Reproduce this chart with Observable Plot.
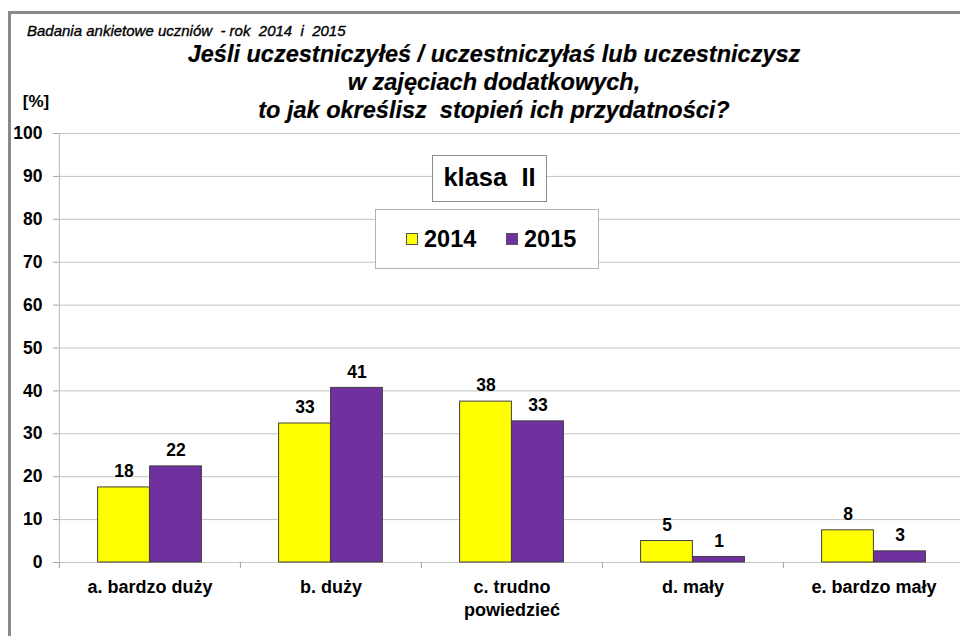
<!DOCTYPE html>
<html>
<head>
<meta charset="utf-8">
<script src="https://cdn.jsdelivr.net/npm/d3@7"></script>
<script src="https://cdn.jsdelivr.net/npm/@observablehq/plot@0.6"></script>
<style>
  html, body { margin: 0; padding: 0; background: #fff; }
  body { width: 960px; height: 636px; overflow: hidden; position: relative;
         font-family: "Liberation Sans", Arial, sans-serif; color: #000; }
  .abs { position: absolute; white-space: pre; }
  #frame { position: absolute; left: 8px; top: 11px; width: 1000px; height: 700px;
           border: 3px solid #8a8a8a; box-sizing: border-box; }
  #chart { position: absolute; left: 0; top: 0; }
  #sub { left: 27px; top: 22px; font-size: 15px; font-style: italic; line-height: 18px;
         -webkit-text-stroke: 0.35px #000; }
  #title { left: 0; width: 988px; top: 40px; text-align: center; font-size: 23.5px;
           font-weight: bold; font-style: italic; line-height: 28px; -webkit-text-stroke: 0.2px #000; }
  #unit { left: 19px; top: 91px; width: 34px; text-align: center; font-size: 17px; font-weight: bold; line-height: 22px; }
  #klasa { left: 432px; top: 155px; width: 115px; height: 47px; box-sizing: border-box;
           border: 1px solid #8c8c8c; background: #fff; text-align: center;
           font-size: 25.5px; font-weight: bold; line-height: 42px; }
  #legend { left: 375px; top: 209px; width: 224px; height: 60px; box-sizing: border-box;
            border: 1px solid #b4b4b4; background: #fff; }
  .sw { position: absolute; width: 12px; height: 12px; box-sizing: border-box; border: 1px solid #555; }
  .lt { position: absolute; font-size: 23.5px; font-weight: bold; line-height: 24px; }
</style>
</head>
<body>
<div id="frame"></div>
<div id="chart"></div>
<div id="sub" class="abs">Badania ankietowe uczniów  - rok  2014  i  2015</div>
<div id="title" class="abs">Jeśli uczestniczyłeś / uczestniczyłaś lub uczestniczysz
w zajęciach dodatkowych,
to jak określisz  stopień ich przydatności?</div>
<div id="unit" class="abs">[%]</div>
<div id="klasa" class="abs">klasa  II</div>
<div id="legend" class="abs"></div>
<script>
const categories = ["a. bardzo duży", "b. duży", "c. trudno\npowiedzieć", "d. mały", "e. bardzo mały"];
const years = ["2014", "2015"];
const values2014 = [17.5, 32.4, 37.5, 5.0, 7.5];
const values2015 = [22.4, 40.7, 32.9, 1.3, 2.6];
const labels2014 = [18, 33, 38, 5, 8];
const labels2015 = [22, 41, 33, 1, 3];
const yTicks = [0, 10, 20, 30, 40, 50, 60, 70, 80, 90, 100];
const colors = ["#ffff00", "#7030a0"];

const W = 960, H = 636, mL = 58, mR = -4, mT = 133, mB = 74;
const bw = (W - mL - mR) / categories.length;
const barW = 52;

const d2014 = categories.map((c, i) => ({category: c, value: values2014[i], label: labels2014[i]}));
const d2015 = categories.map((c, i) => ({category: c, value: values2015[i], label: labels2015[i]}));

const chart = Plot.plot({
  width: W, height: H,
  marginLeft: mL, marginRight: mR, marginTop: mT, marginBottom: mB,
  style: {background: "transparent", fontFamily: "Liberation Sans, Arial, sans-serif", color: "#000", overflow: "visible"},
  x: {domain: categories, padding: 0, axis: null},
  y: {domain: [0, 100], axis: null},
  marks: [
    Plot.gridY(yTicks, {stroke: "#c4c4c4", strokeOpacity: 1}),
    Plot.ruleX([categories[0]], {dx: -bw / 2, y1: 0, y2: 100, stroke: "#b8b8b8"}),
    Plot.axisY(yTicks, {tickSize: 5, tickFormat: () => "", stroke: "#a0a0a0", label: null}),
    Plot.axisY(yTicks, {tickSize: 0, tickPadding: 16, fontSize: 17.5, fontWeight: "bold", label: null}),
    Plot.axisX(categories, {tickSize: 6, tickFormat: () => "", dx: -bw / 2, stroke: "#a0a0a0", label: null}),
    Plot.axisX(categories, {tickSize: 0, tickPadding: 15, fontSize: 18, fontWeight: "bold", lineHeight: 1.25, label: null}),
    Plot.barY(d2014, {x: "category", y: "value", fill: colors[0], stroke: "#404040", strokeWidth: 1,
                      insetLeft: bw / 2 - barW, insetRight: bw / 2}),
    Plot.barY(d2015, {x: "category", y: "value", fill: colors[1], stroke: "#404040", strokeWidth: 1,
                      insetLeft: bw / 2, insetRight: bw / 2 - barW}),
    Plot.text(d2014, {x: "category", y: "value", text: d => String(d.label), dx: -barW / 2, dy: -16,
                      fontSize: 17.5, fontWeight: "bold"}),
    Plot.text(d2015, {x: "category", y: "value", text: d => String(d.label), dx: barW / 2, dy: -16,
                      fontSize: 17.5, fontWeight: "bold"})
  ]
});
document.getElementById("chart").appendChild(chart);

// legend built from the series
const legend = document.getElementById("legend");
const itemLeft = [30, 130];
years.forEach((y, i) => {
  const sw = document.createElement("div");
  sw.className = "sw";
  sw.style.left = itemLeft[i] + "px";
  sw.style.top = "23px";
  sw.style.background = colors[i];
  legend.appendChild(sw);
  const t = document.createElement("div");
  t.className = "lt";
  t.style.left = (itemLeft[i] + 18) + "px";
  t.style.top = "17px";
  t.textContent = y;
  legend.appendChild(t);
});
</script>
</body>
</html>
